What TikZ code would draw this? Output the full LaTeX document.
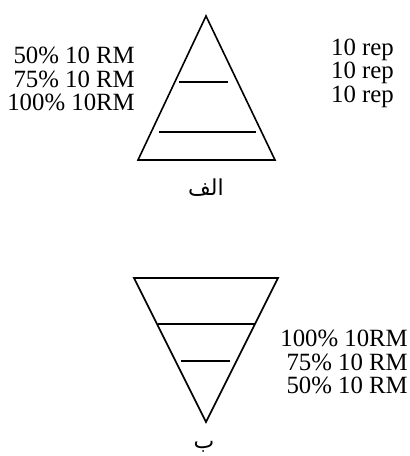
\documentclass[tikz,border=0pt]{standalone}
\usepackage{fontspec}
\setmainfont{Liberation Serif}
\newfontfamily\arabicfont[Script=Arabic]{DejaVu Sans}
\TeXXeTstate=1
\begin{document}
\begin{tikzpicture}[x=1pt,y=-1pt,
  outl/.style={line width=1.6pt, line join=miter},
  lbl/.style={inner sep=0pt, font=\fontsize{24.8}{22}\selectfont},
  ar/.style={inner sep=0pt, font=\arabicfont\fontsize{22}{22}\selectfont}]
\useasboundingbox (0,0) rectangle (410,456);
% top pyramid
\coordinate (A) at (206,16);
\coordinate (B) at (138,160);
\coordinate (C) at (275,160);
\draw[outl] (A) -- (B) -- (C) -- cycle;
\coordinate (l1a) at (179,82); \coordinate (l1b) at (228,82);
\coordinate (l2a) at (159,132); \coordinate (l2b) at (256,132);
\draw[outl] (l1a) -- (l1b);
\draw[outl] (l2a) -- (l2b);
\node[lbl, anchor=base east] (t1) at (135,63) {50\% 10 RM};
\node[lbl, anchor=base east] (t2) at (135,87) {75\% 10 RM};
\node[lbl, anchor=base east] (t3) at (135,110) {100\% 10RM};
\node[lbl, anchor=base west] (r1) at (331,55) {10 rep};
\node[lbl, anchor=base west] (r2) at (331,78.5) {10 rep};
\node[lbl, anchor=base west] (r3) at (331,102) {10 rep};
\node[ar, anchor=base] (alef) at (206,195) {\beginR الف\endR};
% bottom pyramid
\coordinate (D) at (134,278);
\coordinate (E) at (278,278);
\coordinate (F) at (206,422);
\draw[outl] (D) -- (E) -- (F) -- cycle;
\coordinate (m1a) at (158,324); \coordinate (m1b) at (255,324);
\coordinate (m2a) at (181,361); \coordinate (m2b) at (230,361);
\draw[outl] (m1a) -- (m1b);
\draw[outl] (m2a) -- (m2b);
\node[lbl, anchor=base east] (b1) at (408,346) {100\% 10RM};
\node[lbl, anchor=base east] (b2) at (408,370) {75\% 10 RM};
\node[lbl, anchor=base east] (b3) at (408,393) {50\% 10 RM};
\node[ar, anchor=base] (be) at (204,448) {\beginR ب\endR};
\end{tikzpicture}
\end{document}
